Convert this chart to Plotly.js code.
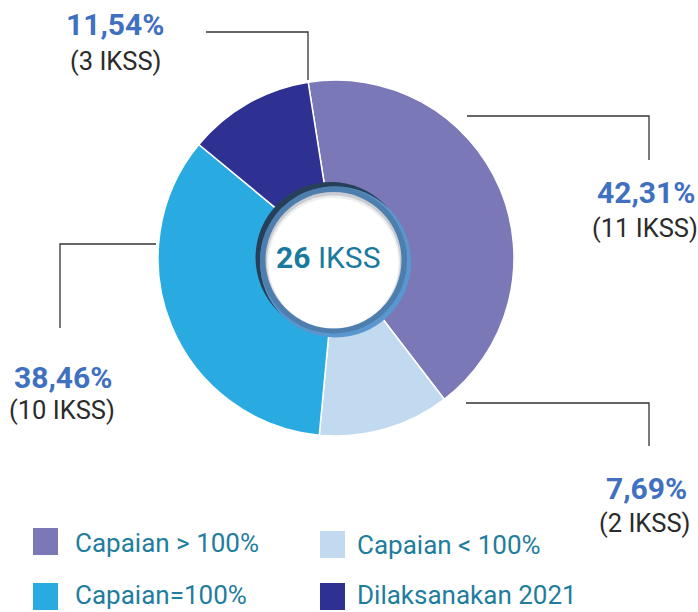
<!DOCTYPE html>
<html>
<head>
<meta charset="utf-8">
<script src="https://cdn.plot.ly/plotly-3.0.1.min.js"></script>
<style>html,body{margin:0;padding:0;background:#fff;}#chart{width:698px;height:612px;}</style>
</head>
<body>
<div id="chart"></div>
<script>
// Categories (legend order = slice order, clockwise from top)
const categories = ["Capaian > 100%", "Capaian < 100%", "Capaian=100%", "Dilaksanakan 2021"];
// Slice shares as drawn in the reference picture
const sliceShares = [42.1, 11.9, 34.5, 11.5];
// Label texts
const percentLabels = ["42,31%", "7,69%", "38,46%", "11,54%"];
const countLabels = ["(11 IKSS)", "(2 IKSS)", "(10 IKSS)", "(3 IKSS)"];
const totalLabel = "<b>26</b> IKSS";
const colors = ["#7b78b8", "#c1daf0", "#29abe2", "#2e3192"];

const W = 698, H = 612;
const px = x => x / W;
const py = y => 1 - y / H;

// Pie geometry (pixels)
const cx = 336, cy = 258, R = 178;

const trace = {
  type: "pie",
  labels: categories,
  values: sliceShares,
  sort: false,
  direction: "clockwise",
  rotation: -9,
  hole: 0.4,
  textinfo: "none",
  hoverinfo: "none",
  marker: { colors: colors, line: { color: "#ffffff", width: 1.5 } },
  domain: { x: [px(cx - R), px(cx + R)], y: [py(cy + R), py(cy - R)] },
  showlegend: false
};

const shapes = [];
const annotations = [];

function circ(x, y, r, fill) {
  shapes.push({ type: "circle", xref: "paper", yref: "paper", layer: "above",
    x0: px(x - r), x1: px(x + r), y0: py(y + r), y1: py(y - r),
    fillcolor: fill, line: { width: 0 } });
}
// Center ring
const rx = 333.5, ry = 260, rr = 76.5;
circ(rx - 2.5, ry - 2.5, rr - 1, "#27405a");
circ(rx + 2, ry + 2, rr - 1, "#5a96cf");
circ(rx, ry, rr - 3, "#4d7eae");
circ(rx, ry, 68, "#c9ccd1");
circ(rx, ry + 2, 66.5, "#eceef0");
circ(rx, ry + 3, 65, "#ffffff");

function poly(pts) {
  let d = "M " + pts.map(p => px(p[0]) + "," + py(p[1])).join(" L ");
  shapes.push({ type: "path", xref: "paper", yref: "paper", layer: "above",
    path: d, line: { color: "#333333", width: 1.3 } });
}
// Leader lines
poly([[467, 116], [649, 116], [649, 160]]);
poly([[466, 403], [649, 403], [649, 446]]);
poly([[156, 244], [60, 244], [60, 328]]);
poly([[206, 32], [308, 32], [308, 80]]);

function txt(t, x, y, xa, font) {
  annotations.push({ text: t, x: px(x), y: py(y), xref: "paper", yref: "paper",
    xanchor: xa, yanchor: "middle", showarrow: false, font: font,
    borderpad: 0, borderwidth: 0 });
}
const pctFont = { family: "Roboto, sans-serif", size: 30, color: "#4070c0", weight: 900 };
const cntFont = { family: "Roboto, sans-serif", size: 25.5, color: "#2b2b2b" };

// label positions [pct x, pct y, count x, count y, anchor]
const labelPos = [
  [695, 192, 698, 228, "right"],
  [687, 488, 690, 523, "right"],
  [63, 377, 62, 410, "center"],
  [115, 25, 115, 61, "center"]
];
for (let i = 0; i < 4; i++) {
  const p = labelPos[i];
  txt("<b>" + percentLabels[i] + "</b>", p[0], p[1], p[4], pctFont);
  txt(countLabels[i], p[2], p[3], p[4], cntFont);
}

// Center label
txt(totalLabel, rx - 5, 257, "center", { family: "Roboto, sans-serif", size: 30, color: "#1a7a9e" });

// Legend
const legPos = [[33, 528, 75, 543], [320, 531, 357, 545], [33, 583, 75, 595], [320, 583, 357, 595]];
for (let i = 0; i < 4; i++) {
  const l = legPos[i];
  shapes.push({ type: "rect", xref: "paper", yref: "paper", layer: "above",
    x0: px(l[0]), x1: px(l[0] + 25), y0: py(l[1] + 27), y1: py(l[1]),
    fillcolor: colors[i], line: { width: 0 } });
  txt(categories[i], l[2], l[3], "left", { family: "Roboto, sans-serif", size: 26, color: "#1f7d9d" });
}

const layout = {
  width: W, height: H, autosize: false,
  margin: { l: 0, r: 0, t: 0, b: 0, pad: 0 },
  paper_bgcolor: "#ffffff", plot_bgcolor: "#ffffff",
  showlegend: false,
  shapes: shapes, annotations: annotations
};

Plotly.newPlot("chart", [trace], layout, { displayModeBar: false, staticPlot: true });
</script>
</body>
</html>
